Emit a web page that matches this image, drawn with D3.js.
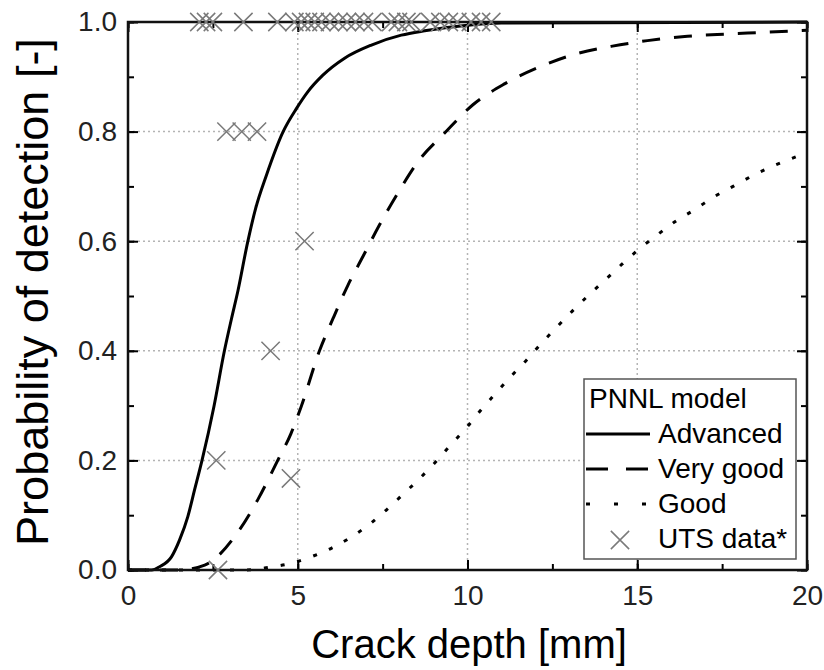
<!DOCTYPE html>
<html>
<head>
<meta charset="utf-8">
<script src="https://cdn.jsdelivr.net/npm/d3@7"></script>
<style>
    body { margin: 0; background: #fff; }
    svg { font-family: "Liberation Sans", Arial, sans-serif; }
</style>
</head>
<body>
<svg width="824" height="670"></svg>
<script>
// PNNL model curves (crack depth mm -> POD)
var advDepth = [0, 0.7, 0.93, 1.28, 1.52, 1.76, 1.96, 2.18, 2.53, 2.84, 3.05, 3.24, 3.52, 3.76, 4.08, 4.57, 4.96, 5.3, 5.74, 6.38, 7.17, 8.05, 8.74, 10, 11, 20];
var advPod = [0, 0, 0.006, 0.024, 0.055, 0.097, 0.146, 0.2, 0.298, 0.4, 0.459, 0.51, 0.597, 0.66, 0.721, 0.8, 0.842, 0.873, 0.903, 0.934, 0.958, 0.976, 0.984, 0.994, 0.998, 1.0];

var vgDepth = [0, 1.5, 2.26, 3.28, 3.82, 4.41, 4.8, 5.1, 5.64, 6.04, 6.48, 6.92, 7.41, 7.95, 8.54, 9.32, 10.16, 11.09, 12.12, 13.15, 14.27, 15.3, 16.48, 17.61, 18.69, 20];
var vgPod = [0, 0, 0.009, 0.073, 0.128, 0.2, 0.249, 0.298, 0.4, 0.459, 0.52, 0.572, 0.63, 0.688, 0.745, 0.797, 0.849, 0.887, 0.918, 0.941, 0.956, 0.966, 0.974, 0.978, 0.981, 0.985];

var goodDepth = [0, 3.5, 4.17, 4.8, 5.39, 6.0, 6.57, 7.08, 7.6, 8.1, 8.59, 9.06, 9.5, 9.96, 10.37, 10.81, 11.26, 11.71, 12.17, 12.61, 13.08, 13.56, 14.05, 14.55, 15.04, 15.58, 16.12, 16.7, 17.26, 17.85, 18.44, 19.03, 19.67, 20];
var goodPod = [0, 0, 0.005, 0.012, 0.024, 0.04, 0.06, 0.082, 0.109, 0.138, 0.167, 0.197, 0.228, 0.259, 0.29, 0.321, 0.352, 0.381, 0.413, 0.442, 0.472, 0.501, 0.529, 0.558, 0.585, 0.611, 0.636, 0.658, 0.681, 0.701, 0.721, 0.738, 0.754, 0.762];

// UTS data points
var utsDepth = [2.1, 2.3, 2.5, 3.4, 4.4, 4.9, 5.1, 5.3, 5.5, 5.7, 5.95, 6.2, 6.45, 6.7, 6.95, 7.2, 7.75, 7.95, 8.2, 8.35, 8.9, 9.2, 9.45, 9.7, 10.1, 10.4, 10.7,
    2.9, 3.35, 3.8, 5.2, 4.2, 2.6, 4.8, 2.65];
var utsPod = [1, 1, 1, 1, 1, 1, 1, 1, 1, 1, 1, 1, 1, 1, 1, 1, 1, 1, 1, 1, 1, 1, 1, 1, 1, 1, 1,
    0.8, 0.8, 0.8, 0.6, 0.4, 0.2, 0.167, 0];

var xTicks = [0, 5, 10, 15, 20];
var yTicks = [0, 0.2, 0.4, 0.6, 0.8, 1.0];
var legendLabels = ['Advanced', 'Very good', 'Good', 'UTS data*'];

function drawChart() {
    var svg = d3.select('svg');
    var x = d3.scaleLinear().domain([0, 20]).range([128, 807]);
    var y = d3.scaleLinear().domain([0, 1]).range([570, 22]);

    // grid
    var grid = svg.append('g').attr('stroke', '#b4b4b4').attr('stroke-width', 1.5).attr('stroke-dasharray', '2,3');
    grid.selectAll('.gx').data(xTicks.slice(1, -1)).enter().append('line')
        .attr('x1', d => x(d)).attr('x2', d => x(d)).attr('y1', y(0)).attr('y2', y(1));
    grid.selectAll('.gy').data(yTicks.slice(1, -1)).enter().append('line')
        .attr('y1', d => y(d)).attr('y2', d => y(d)).attr('x1', x(0)).attr('x2', x(20));

    // axes, ticks inward on all sides
    var minorX = d3.range(0, 20.01, 2.5), minorY = d3.range(0, 1.001, 0.1);
    function axis(gen, tr) {
        var g = svg.append('g').attr('transform', tr);
        g.call(gen);
        g.attr('font-family', null).attr('font-size', 28);
        g.select('.domain').remove();
        g.selectAll('line').attr('stroke', '#000').attr('stroke-width', 2);
        g.selectAll('text').attr('fill', '#222');
        return g;
    }
    axis(d3.axisBottom(x).tickValues(minorX).tickSize(-6).tickFormat(''), 'translate(0,' + y(0) + ')');
    axis(d3.axisTop(x).tickValues(minorX).tickSize(-6).tickFormat(''), 'translate(0,' + y(1) + ')');
    axis(d3.axisLeft(y).tickValues(minorY).tickSize(-6).tickFormat(''), 'translate(' + x(0) + ',0)');
    axis(d3.axisRight(y).tickValues(minorY).tickSize(-6).tickFormat(''), 'translate(' + x(20) + ',0)');

    axis(d3.axisBottom(x).tickValues(xTicks).tickSize(-10).tickPadding(15), 'translate(0,' + y(0) + ')');
    axis(d3.axisTop(x).tickValues(xTicks).tickSize(-10).tickFormat(''), 'translate(0,' + y(1) + ')');
    axis(d3.axisLeft(y).tickValues(yTicks).tickSize(-10).tickPadding(11).tickFormat(d3.format('.1f')), 'translate(' + x(0) + ',0)');
    axis(d3.axisRight(y).tickValues(yTicks).tickSize(-10).tickFormat(''), 'translate(' + x(20) + ',0)');

    // curves
    var line = d3.line().x(d => x(d[0])).y(d => y(d[1])).curve(d3.curveMonotoneX);
    var series = [
        { depth: advDepth, pod: advPod, dash: null },
        { depth: vgDepth, pod: vgPod, dash: '18,14' },
        { depth: goodDepth, pod: goodPod, dash: '4,13' }
    ];
    svg.selectAll('.curve').data(series).enter().append('path')
        .attr('class', 'curve')
        .attr('d', s => line(s.depth.map((d, i) => [d, s.pod[i]])))
        .attr('fill', 'none').attr('stroke', '#000').attr('stroke-width', 3)
        .attr('stroke-dasharray', s => s.dash);

    // frame
    svg.append('rect').attr('x', x(0)).attr('y', y(1)).attr('width', x(20) - x(0)).attr('height', y(0) - y(1))
        .attr('fill', 'none').attr('stroke', '#111').attr('stroke-width', 2.5);

    // UTS markers
    var cross = d3.symbol().type(d3.symbolX).size(220);
    svg.selectAll('.uts').data(utsDepth).enter().append('path')
        .attr('transform', (d, i) => 'translate(' + x(d) + ',' + y(utsPod[i]) + ')')
        .attr('d', cross).attr('fill', 'none').attr('stroke', '#7a7a7a').attr('stroke-width', 1.5);

    // legend
    var lg = svg.append('g');
    lg.append('rect').attr('x', 584).attr('y', 379).attr('width', 212).attr('height', 180)
        .attr('fill', '#fff').attr('stroke', '#555').attr('stroke-width', 1.5);
    lg.append('text').attr('x', 589).attr('y', 408).attr('font-size', 28).text('PNNL model');
    var dashes = [null, '22,18', '4,24'];
    legendLabels.forEach((t, i) => {
        var cy = 434 + i * 35;
        if (i < 3) {
            lg.append('line').attr('x1', 586).attr('x2', 650).attr('y1', cy).attr('y2', cy)
                .attr('stroke', '#000').attr('stroke-width', 3).attr('stroke-dasharray', dashes[i]);
        } else {
            lg.append('path').attr('transform', 'translate(620,' + (cy + 1) + ')').attr('d', cross)
                .attr('fill', 'none').attr('stroke', '#7a7a7a').attr('stroke-width', 1.5);
        }
        lg.append('text').attr('x', 658).attr('y', cy + 9).attr('font-size', 28).text(t);
    });

    // axis titles
    svg.append('text').attr('x', 469).attr('y', 658).attr('text-anchor', 'middle')
        .attr('font-size', 40).text('Crack depth [mm]');
    svg.append('text').attr('transform', 'translate(48,292) rotate(-90)').attr('text-anchor', 'middle')
        .attr('font-size', 45).text('Probability of detection [-]');
}
drawChart();
</script>
</body>
</html>
